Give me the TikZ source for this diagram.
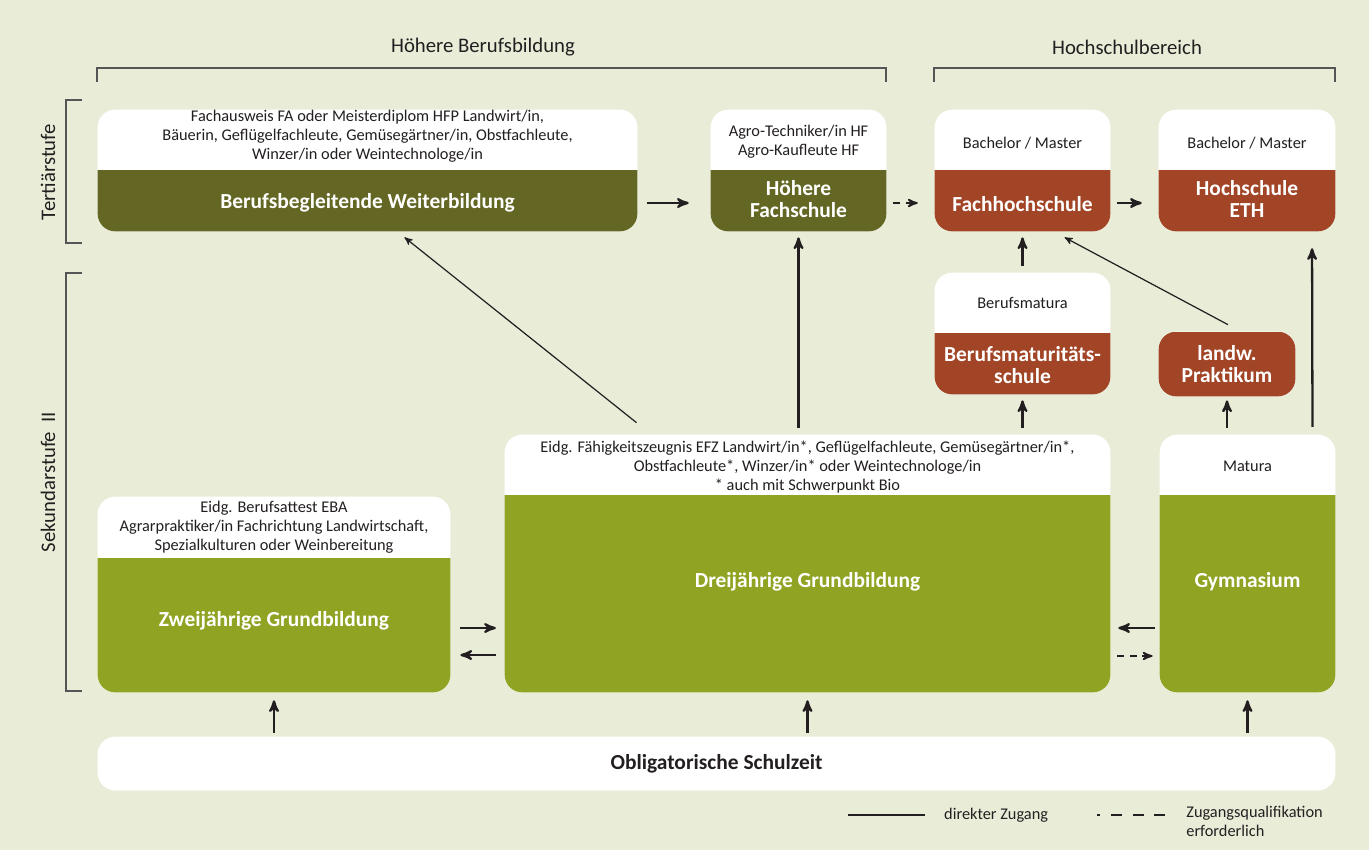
\documentclass[tikz,border=0pt]{standalone}
\usepackage{fontspec}
\setmainfont{Carlito}
\usetikzlibrary{arrows,positioning,fit,calc}

\definecolor{bg}{RGB}{233,237,216}
\definecolor{olivedark}{RGB}{100,102,36}
\definecolor{grass}{RGB}{144,163,35}
\definecolor{rust}{RGB}{161,69,38}
\definecolor{ink}{RGB}{35,31,32}
\definecolor{rule}{RGB}{85,85,85}

\tikzset{
  small/.style={font=\fontsize{9.3}{10.8}\selectfont, text=ink, align=center},
  big/.style={font=\fontsize{12.2}{12.8}\selectfont\bfseries, text=white, align=center},
  head/.style={font=\fontsize{11.8}{13}\selectfont, text=ink},
  arr/.style={ink, line width=1.3pt, -stealth'},
  thin/.style={ink, line width=0.7pt, -stealth'},
  qual/.style={ink, line width=1pt, -stealth', dash pattern=on 4pt off 3pt},
  bracket/.style={rule, line width=0.8pt}
}

\begin{document}
\begin{tikzpicture}[x=0.02cm, y=-0.02cm]
\fill[bg] (0,0) rectangle (1369,850);

% boxes
\node[fit={(98,110) (637,231)}, inner sep=0pt] (bw) {};
\node[fit={(711,110) (886,231)}, inner sep=0pt] (hf) {};
\node[fit={(935,110) (1110,231)}, inner sep=0pt] (fh) {};
\node[fit={(1159,110) (1335,231)}, inner sep=0pt] (eth) {};
\node[fit={(935,273) (1110,394)}, inner sep=0pt] (bms) {};
\node[fit={(1159,332) (1295,396)}, inner sep=0pt] (prak) {};
\node[fit={(98,497) (450,692)}, inner sep=0pt] (eba) {};
\node[fit={(505,435) (1110,692)}, inner sep=0pt] (efz) {};
\node[fit={(1160,435) (1335,692)}, inner sep=0pt] (gym) {};
\node[fit={(98,737) (1335,790)}, inner sep=0pt] (obl) {};

\foreach \nm/\col/\cut in {bw/olivedark/170, hf/olivedark/170, fh/rust/170, eth/rust/170,
    bms/rust/333, prak/rust/332, eba/grass/558, efz/grass/495, gym/grass/495, obl/white/790}{
  \fill[white, rounded corners=10pt] (\nm.north west) rectangle (\nm.south east);
  \begin{scope}
    \clip (\nm.south west) rectangle (\nm.east |- 0,\cut);
    \fill[\col, rounded corners=10pt] (\nm.north west) rectangle (\nm.south east);
  \end{scope}
}

% texts in the boxes
\node[small] (bwtop) at (bw.north |- 0,136) {Fachausweis FA oder Meisterdiplom HFP Landwirt/in,\\Bäuerin, Geflügelfachleute, Gemüsegärtner/in, Obstfachleute,\\Winzer/in oder Weintechnologe/in};
\node[big] (bwlab) at (bw.north |- 0,203) {Berufsbegleitende Weiterbildung};
\node[small] (hftop) at (hf.north |- 0,142) {Agro-Techniker/in HF\\Agro-Kaufleute HF};
\node[big] (hflab) at (hf.north |- 0,199) {Höhere\\Fachschule};
\node[small] (fhtop) at (fh.north |- 0,143) {Bachelor / Master};
\node[big] (fhlab) at (fh.north |- 0,204) {Fachhochschule};
\node[small] (ethtop) at (eth.north |- 0,143) {Bachelor / Master};
\node[big] (ethlab) at (eth.north |- 0,199) {Hochschule\\ETH};
\node[small] (bmstop) at (bms.north |- 0,303) {Berufsmatura};
\node[big] (bmslab) at (bms.north |- 0,365) {Berufsmaturitäts-\\schule};
\node[big] (praklab) at (prak.center) {landw.\\Praktikum};
\node[small] (ebatop) at (eba.north |- 0,527) {Eidg. Berufsattest EBA\\Agrarpraktiker/in Fachrichtung Landwirtschaft,\\Spezialkulturen oder Weinbereitung};
\node[big] (ebalab) at (eba.north |- 0,621) {Zweijährige Grundbildung};
\node[small] (efztop) at (efz.north |- 0,467) {Eidg. Fähigkeitszeugnis EFZ Landwirt/in*, Geflügelfachleute, Gemüsegärtner/in*,\\Obstfachleute*, Winzer/in* oder Weintechnologe/in\\* auch mit Schwerpunkt Bio};
\node[big] (efzlab) at (efz.north |- 0,582) {Dreijährige Grundbildung};
\node[small] (gymtop) at (gym.north |- 0,466) {Matura};
\node[big] (gymlab) at (gym.north |- 0,582) {Gymnasium};
\node[big, text=ink] (obllab) at (obl.center) {Obligatorische Schulzeit};

% brackets and headings
\draw[bracket] (97,82) -- (97,68) -- (886,68) -- (886,82);
\draw[bracket] (934,82) -- (934,68) -- (1335,68) -- (1335,82);
\draw[bracket] (82,100) -- (66,100) -- (66,243) -- (82,243);
\draw[bracket] (82,273) -- (66,273) -- (66,691) -- (82,691);
\node[head] (hbb) at (483,47) {Höhere Berufsbildung};
\node[head] (hsb) at (1127,47) {Hochschulbereich};
\node[head, rotate=90] (tst) at (48,172) {Tertiärstufe};
\node[head, rotate=90] (sst) at (48,482) {Sekundarstufe\ \ II};

% connectors
\draw[arr, shorten <=5.7pt, shorten >=12.5pt] (bw.east |- bwlab) -- (hf.west |- bwlab);
\draw[qual, shorten <=4pt, shorten >=9.6pt] (hf.east |- bwlab) -- (fh.west |- bwlab);
\draw[arr, shorten <=4pt, shorten >=9.6pt] (fh.east |- bwlab) -- (eth.west |- bwlab);
\draw[arr, shorten <=4pt, shorten >=3.4pt] (bms.north) -- (fh.south);
\draw[thin] ($(prak.north)+(1,-7)$) -- ($(fh.south)+(42,6)$);
\draw[thin] ($(efz.north)+(-171,-12)$) -- ($(bw.south)+(37,6)$);
\draw[arr, shorten <=4pt, shorten >=3.4pt] (hf.south |- efz.north) -- (hf.south);
\draw[arr, shorten <=4pt, shorten >=3.4pt] (bms.south |- efz.north) -- (bms.south);
\draw[arr, shorten <=4pt, shorten >=2.3pt] (prak.south |- gym.north) -- (prak.south);
\draw[arr, shorten <=4.5pt, shorten >=9.6pt] ($(gym.north)+(65,0)$) -- ($(eth.south)+(65,0)$);
\draw[arr, shorten <=5.7pt, shorten >=5pt] (eba.east |- 0,628) -- (efz.west |- 0,628);
\draw[arr, shorten <=5pt, shorten >=5.7pt] (efz.west |- 0,655) -- (eba.east |- 0,655);
\draw[arr, shorten <=2.8pt, shorten >=4.5pt] (gym.west |- 0,628) -- (efz.east |- 0,628);
\draw[qual, shorten <=4pt, shorten >=4pt] (efz.east |- 0,656) -- (gym.west |- 0,656);
\draw[arr, shorten <=2.3pt, shorten >=4.5pt] (eba.south |- obl.north) -- (eba.south);
\draw[arr, shorten <=2.3pt, shorten >=4.5pt] (efz.south |- obl.north) -- (efz.south);
\draw[arr, shorten <=2.3pt, shorten >=4.5pt] (gym.south |- obl.north) -- (gym.south);

% legend
\draw[ink, line width=1.3pt] (848,815) -- (925,815);
\node[small, anchor=west] (leg1) at (938,815) {direkter Zugang};
\draw[ink, line width=0.7pt, dash pattern=on 1.7pt off 6.2pt on 6.2pt off 6.2pt on 6.2pt off 6.2pt on 6.2pt off 10pt] (1097,815) -- (1168,815);
\node[small, anchor=north west, align=left, inner sep=0pt] (leg2) at (1186,806) {Zugangsqualifikation\\erforderlich};
\end{tikzpicture}
\end{document}
